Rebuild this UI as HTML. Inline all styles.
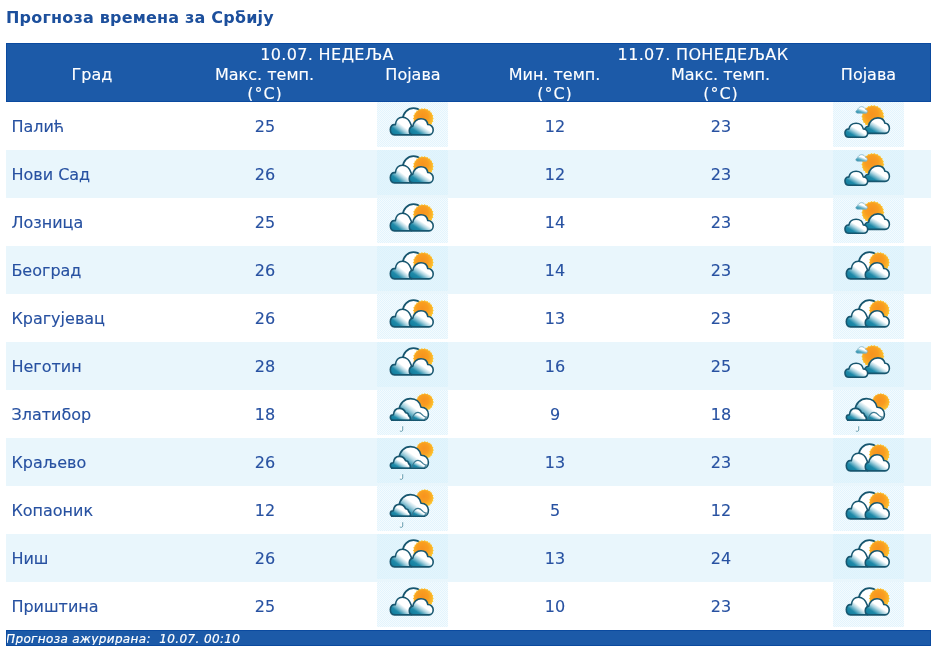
<!DOCTYPE html>
<html lang="sr">
<head>
<meta charset="utf-8">
<title>Прогноза времена за Србију</title>
<style>
html,body{margin:0;padding:0;background:#fff;}
body{width:934px;height:651px;position:relative;overflow:hidden;font-family:"DejaVu Sans","Liberation Sans",sans-serif;font-size:16px;color:#2751a1;-webkit-text-stroke:0.12px #2751a1;}
.ttl{position:absolute;left:6px;top:8px;margin:0;font-size:16px;line-height:20px;font-weight:bold;color:#1c4f9c;-webkit-text-stroke:0;white-space:nowrap;letter-spacing:0.2px;}
.tbl{position:absolute;left:6px;top:43px;width:925px;}
.hd{-webkit-text-stroke:0.12px #fff;position:relative;background:#1c5aa8;border:1px solid #0b4a9f;color:#fff;overflow:hidden;box-sizing:border-box;height:59px;}
.h{position:absolute;text-align:center;line-height:19px;white-space:nowrap;transform:translateX(-50%);margin-top:-1px;margin-left:-1px;}
.h i{font-style:normal;letter-spacing:1px;margin-left:1px;}
.h.c1{left:86px}
.h.d1{left:321px;letter-spacing:0.35px}
.h.c2{left:258.5px}
.h.c3{left:407px}
.h.d2{left:697px;letter-spacing:0.35px}
.h.c4{left:548.5px}
.h.c5{left:714.5px}
.h.c6{left:862.5px}
.r{position:relative;height:48px;background:#fff;}
.r.alt{background:#e9f6fc;}
.n{position:absolute;left:5.4px;top:1px;line-height:48px;white-space:nowrap;}
.v{position:absolute;top:1px;line-height:48px;width:100px;margin-left:-50px;text-align:center;}
.v.c2{left:259px}
.v.c4{left:549px}
.v.c5{left:715px}
.ic{position:absolute;top:0;width:71px;height:45px;background:repeating-conic-gradient(rgba(214,239,251,.57) 0 25%,transparent 0 50%) 0 0/2px 2px rgba(219,241,251,.3);}
.ic svg{display:block}
.i1{left:371px}
.i2{left:827px}
.ft{height:16px;box-sizing:border-box;background:#1c5aa8;border:1px solid #0b4a9f;color:#fff;font-style:italic;font-size:12px;line-height:15px;white-space:nowrap;letter-spacing:0.37px;padding:1px 0 0 0;overflow:hidden;text-indent:-1px;-webkit-text-stroke:0.2px #fff;}
</style>
</head>
<body>
<svg width="0" height="0" style="position:absolute" aria-hidden="true">
<defs>
<linearGradient id="gc" x1="0.04" y1="1" x2="0.76" y2="0.25">
<stop offset="0" stop-color="#0d7898"/><stop offset="0.32" stop-color="#1f8aa9"/><stop offset="0.56" stop-color="#b0d6e2"/><stop offset="0.72" stop-color="#fff"/>
</linearGradient>
<linearGradient id="gs" x1="0.1" y1="1" x2="0.7" y2="0.1">
<stop offset="0" stop-color="#1a86a5"/><stop offset="0.35" stop-color="#5badc4"/><stop offset="0.7" stop-color="#fff"/>
</linearGradient>
<radialGradient id="gsun" cx="0.45" cy="0.4" r="0.6">
<stop offset="0" stop-color="#f7931e"/><stop offset="0.5" stop-color="#f99d20"/><stop offset="0.85" stop-color="#fcb52a"/><stop offset="1" stop-color="#fdc430"/>
</radialGradient>
<symbol id="icA" viewBox="0 0 71 45">
<circle cx="36.5" cy="16.8" r="10.6" fill="#fff" stroke="#17566f" stroke-width="1.8"/>
<path d="M20,20 H52 V32 H20 Z" fill="#fff"/>
<polygon points="56.8,16.5 55.5,17.8 56.4,19.5 54.8,20.4 55.1,22.2 53.3,22.6 53.2,24.4 51.3,24.3 50.7,26.1 48.9,25.4 47.8,26.9 46.3,25.8 44.8,26.9 43.7,25.4 41.9,26.1 41.3,24.3 39.4,24.4 39.3,22.6 37.5,22.2 37.8,20.4 36.2,19.5 37.1,17.8 35.8,16.5 37.1,15.2 36.2,13.5 37.8,12.6 37.5,10.8 39.3,10.4 39.4,8.6 41.3,8.7 41.9,6.9 43.7,7.6 44.8,6.1 46.3,7.2 47.8,6.1 48.9,7.6 50.7,6.9 51.3,8.7 53.2,8.6 53.3,10.4 55.1,10.8 54.8,12.6 56.4,13.5 55.5,15.2" fill="#fdc830"/><circle cx="46.3" cy="16.5" r="9.5" fill="url(#gsun)"/>
<path d="M17.5,32.9 C14.5,32.9 13.3,30.5 13.3,27.6 C13.3,24.3 15.5,22 18.3,22.8 C18.8,18.5 21.5,15.2 25.3,15.2 C29.5,15.2 32.8,18.5 34.3,23.2 L35,32.9 Z" fill="url(#gc)" stroke="#17566f" stroke-width="1.6" stroke-linejoin="round"/>
<path d="M36,32.9 C33.5,32.9 32.25,31 32.25,28.8 C32.25,26.5 33.5,24.6 35.8,24.2 C36.5,20 39.8,16.7 44,16.7 C47.5,16.7 50.2,19 50.8,22.5 C54,22.5 56.2,25 56.2,27.8 C56.2,30.5 54.5,32.9 52,32.9 Z" fill="url(#gc)" stroke="#17566f" stroke-width="1.6" stroke-linejoin="round"/>
</symbol>
<symbol id="icB" viewBox="0 0 71 45">
<polygon points="51.4,14.4 50.1,15.9 50.9,17.6 49.3,18.7 49.6,20.6 47.7,21.1 47.4,23.1 45.5,23.1 44.7,24.9 42.8,24.3 41.5,25.8 39.9,24.7 38.3,25.8 37.0,24.3 35.1,24.9 34.3,23.1 32.4,23.1 32.1,21.1 30.2,20.6 30.5,18.7 28.9,17.6 29.7,15.9 28.4,14.4 29.7,12.9 28.9,11.2 30.5,10.1 30.2,8.2 32.1,7.7 32.4,5.7 34.3,5.7 35.1,3.9 37.0,4.5 38.3,3.0 39.9,4.1 41.5,3.0 42.8,4.5 44.7,3.9 45.5,5.7 47.4,5.7 47.7,7.7 49.6,8.2 49.3,10.1 50.9,11.2 50.1,12.9" fill="#fdc830"/><circle cx="39.9" cy="14.4" r="10.5" fill="url(#gsun)"/>
<path d="M24.6,11.2 C22.4,11.2 22.1,8.4 24.6,8 C25,5.6 27,4.7 28.7,4.7 C30.6,4.7 32,5.9 32.6,7.6 C34.7,7.7 35,11.2 32.8,11.2 Z" fill="url(#gs)" stroke="#7fb3c6" stroke-width="0.8" stroke-linejoin="round"/>
<path d="M35,31.4 C30.5,31.4 30.5,25 35.5,24.3 C36,19.5 40,15.9 44.9,15.9 C48.5,15.9 51.2,18 52,21.3 C54.5,21 56.4,23.5 56.4,26.3 C56.4,29 54.5,31.4 52,31.4 Z" fill="url(#gc)" stroke="#17566f" stroke-width="1.6" stroke-linejoin="round"/>
<path d="M16,35.2 C13,35.2 11.95,33 11.95,30.8 C11.95,28.5 13.5,26.8 15.8,27.1 C16.5,23.5 19.5,21.2 23.1,21.2 C27,21.2 29.8,23.8 30.3,27 C32.5,27 34.65,28.8 34.65,31.3 C34.65,33.5 33,35.2 30.5,35.2 Z" fill="url(#gc)" stroke="#17566f" stroke-width="1.6" stroke-linejoin="round"/>
</symbol>
<symbol id="icC" viewBox="0 0 71 45">
<polygon points="57.0,12.1 55.7,13.4 56.5,14.9 54.9,15.7 55.2,17.5 53.5,17.8 53.2,19.5 51.4,19.2 50.6,20.8 49.1,20.0 47.8,21.3 46.5,20.0 45.0,20.8 44.2,19.2 42.4,19.5 42.1,17.8 40.4,17.5 40.7,15.7 39.1,14.9 39.9,13.4 38.6,12.1 39.9,10.8 39.1,9.3 40.7,8.5 40.4,6.7 42.1,6.4 42.4,4.7 44.2,5.0 45.0,3.4 46.5,4.2 47.8,2.9 49.1,4.2 50.6,3.4 51.4,5.0 53.2,4.7 53.5,6.4 55.2,6.7 54.9,8.5 56.5,9.3 55.7,10.8" fill="#fdc830"/><circle cx="47.8" cy="12.1" r="8.2" fill="url(#gsun)"/>
<path d="M22,30.3 L22,20 C22.5,13.5 27.5,8.6 33.5,8.6 C39,8.6 43,12 44,17.2 C48.5,17 51.4,20.5 51.4,24.2 C51.4,27.5 49.5,30.3 46.5,30.3 Z" fill="url(#gc)" stroke="#17566f" stroke-width="1.6" stroke-linejoin="round"/>
<path d="M35,30 C35.5,25 38.5,22.4 41,22.4 C43.5,22.4 45,24.3 46.2,25.6 C47.2,26.6 48.3,27.1 49.5,27 L47,30 Z" fill="url(#gc)" stroke="#3b7a92" stroke-width="1.1"/>
<path d="M16.5,30.3 C14.3,30.3 13.35,28.8 13.35,27.4 C13.35,25.8 14.6,24.8 16.3,24.8 C16.8,21 19.3,18.4 22.4,18.4 C25.3,18.4 27.6,20.2 28.6,22.8 C30.5,23 31.5,24.5 31.6,25.5 C33,26.5 33.8,28.5 33,30.3 Z" fill="url(#gc)" stroke="#17566f" stroke-width="1.6" stroke-linejoin="round"/>
<path d="M14,30.4 H48" stroke="#17566f" stroke-width="1.4" fill="none"/>
<path d="M25.9,35.2 L25.9,40.2 C25.9,41.6 24.2,42 22.9,41 C22.3,40.4 22.6,39.6 23,39 Z" fill="#fbfdfe"/>
<path d="M25.7,36.6 L25.7,39.9 C25.7,41.4 24.3,41.7 23.2,41.1" fill="none" stroke="#3f849b" stroke-width="0.8" stroke-linecap="round"/>
</symbol>
</defs>
</svg>
<h1 class="ttl">Прогноза времена за Србију</h1>
<div class="tbl">
<div class="hd">
<div class="h c1" style="top:22px">Град</div>
<div class="h d1" style="top:2px">10.07. НЕДЕЉА</div>
<div class="h c2" style="top:22px">Макс. темп.<br><i>(°C)</i></div>
<div class="h c3" style="top:22px">Појава</div>
<div class="h d2" style="top:2px">11.07. ПОНЕДЕЉАК</div>
<div class="h c4" style="top:22px">Мин. темп.<br><i>(°C)</i></div>
<div class="h c5" style="top:22px">Макс. темп.<br><i>(°C)</i></div>
<div class="h c6" style="top:22px">Појава</div>
</div>
<div class="r"><div class="n">Палић</div><div class="v c2">25</div><div class="ic i1"><svg width="71" height="45" viewBox="0 0 71 45"><use href="#icA"/></svg></div><div class="v c4">12</div><div class="v c5">23</div><div class="ic i2"><svg width="71" height="45" viewBox="0 0 71 45"><use href="#icB"/></svg></div></div>
<div class="r alt"><div class="n">Нови Сад</div><div class="v c2">26</div><div class="ic i1"><svg width="71" height="45" viewBox="0 0 71 45"><use href="#icA"/></svg></div><div class="v c4">12</div><div class="v c5">23</div><div class="ic i2"><svg width="71" height="45" viewBox="0 0 71 45"><use href="#icB"/></svg></div></div>
<div class="r"><div class="n">Лозница</div><div class="v c2">25</div><div class="ic i1"><svg width="71" height="45" viewBox="0 0 71 45"><use href="#icA"/></svg></div><div class="v c4">14</div><div class="v c5">23</div><div class="ic i2"><svg width="71" height="45" viewBox="0 0 71 45"><use href="#icB"/></svg></div></div>
<div class="r alt"><div class="n">Београд</div><div class="v c2">26</div><div class="ic i1"><svg width="71" height="45" viewBox="0 0 71 45"><use href="#icA"/></svg></div><div class="v c4">14</div><div class="v c5">23</div><div class="ic i2"><svg width="71" height="45" viewBox="0 0 71 45"><use href="#icA"/></svg></div></div>
<div class="r"><div class="n">Крагујевац</div><div class="v c2">26</div><div class="ic i1"><svg width="71" height="45" viewBox="0 0 71 45"><use href="#icA"/></svg></div><div class="v c4">13</div><div class="v c5">23</div><div class="ic i2"><svg width="71" height="45" viewBox="0 0 71 45"><use href="#icA"/></svg></div></div>
<div class="r alt"><div class="n">Неготин</div><div class="v c2">28</div><div class="ic i1"><svg width="71" height="45" viewBox="0 0 71 45"><use href="#icA"/></svg></div><div class="v c4">16</div><div class="v c5">25</div><div class="ic i2"><svg width="71" height="45" viewBox="0 0 71 45"><use href="#icB"/></svg></div></div>
<div class="r"><div class="n">Златибор</div><div class="v c2">18</div><div class="ic i1"><svg width="71" height="45" viewBox="0 0 71 45"><use href="#icC"/></svg></div><div class="v c4">9</div><div class="v c5">18</div><div class="ic i2"><svg width="71" height="45" viewBox="0 0 71 45"><use href="#icC"/></svg></div></div>
<div class="r alt"><div class="n">Краљево</div><div class="v c2">26</div><div class="ic i1"><svg width="71" height="45" viewBox="0 0 71 45"><use href="#icC"/></svg></div><div class="v c4">13</div><div class="v c5">23</div><div class="ic i2"><svg width="71" height="45" viewBox="0 0 71 45"><use href="#icA"/></svg></div></div>
<div class="r"><div class="n">Копаоник</div><div class="v c2">12</div><div class="ic i1"><svg width="71" height="45" viewBox="0 0 71 45"><use href="#icC"/></svg></div><div class="v c4">5</div><div class="v c5">12</div><div class="ic i2"><svg width="71" height="45" viewBox="0 0 71 45"><use href="#icA"/></svg></div></div>
<div class="r alt"><div class="n">Ниш</div><div class="v c2">26</div><div class="ic i1"><svg width="71" height="45" viewBox="0 0 71 45"><use href="#icA"/></svg></div><div class="v c4">13</div><div class="v c5">24</div><div class="ic i2"><svg width="71" height="45" viewBox="0 0 71 45"><use href="#icA"/></svg></div></div>
<div class="r"><div class="n">Приштина</div><div class="v c2">25</div><div class="ic i1"><svg width="71" height="45" viewBox="0 0 71 45"><use href="#icA"/></svg></div><div class="v c4">10</div><div class="v c5">23</div><div class="ic i2"><svg width="71" height="45" viewBox="0 0 71 45"><use href="#icA"/></svg></div></div>
<div class="ft">Прогноза ажурирана:&nbsp; 10.07. 00:10</div>
</div>
</body>
</html>
